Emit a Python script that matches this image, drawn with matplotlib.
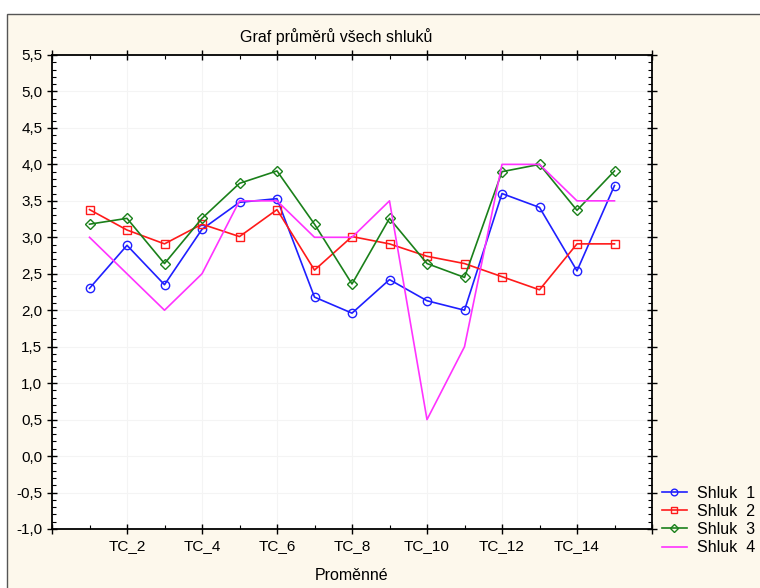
import matplotlib
matplotlib.use("Agg")
import matplotlib.pyplot as plt
from matplotlib.patches import Rectangle
from matplotlib.ticker import MultipleLocator, FuncFormatter

plt.rcParams['font.family'] = ['Liberation Sans', 'DejaVu Sans']

#--- Data (cluster means per variable)
variables = ["TC_%d" % i for i in range(1, 16)]
shluk_1 = [2.30, 2.89, 2.35, 3.11, 3.48, 3.53, 2.18, 1.96, 2.42, 2.13, 2.00, 3.60, 3.41, 2.54, 3.71]
shluk_2 = [3.38, 3.10, 2.91, 3.18, 3.01, 3.38, 2.55, 3.01, 2.91, 2.74, 2.64, 2.46, 2.28, 2.91, 2.91]
shluk_3 = [3.18, 3.26, 2.64, 3.26, 3.74, 3.91, 3.18, 2.36, 3.26, 2.64, 2.45, 3.90, 4.00, 3.37, 3.91]
shluk_4 = [3.00, 2.50, 2.00, 2.50, 3.50, 3.50, 3.00, 3.00, 3.50, 0.50, 1.50, 4.00, 4.00, 3.50, 3.50]
series_labels = ["Shluk  1", "Shluk  2", "Shluk  3", "Shluk  4"]

x = list(range(1, len(variables) + 1))

fig = plt.figure(figsize=(7.6, 5.88), dpi=100, facecolor="white")
# cream panel with thin frame
fig.patches.append(Rectangle((7 / 760, -0.1), 1.0, (588 - 14) / 588 + 0.1,
                             transform=fig.transFigure, facecolor="#fdf8ec",
                             edgecolor="#555555", linewidth=1.0, zorder=-10))

ax = fig.add_axes([52 / 760, 1 - 529 / 588, 600 / 760, 474 / 588])
ax.set_facecolor("white")

l1, = ax.plot(x, shluk_1, color="#1f1fff", lw=1.2, marker="o", ms=6, mfc="none", mew=1.0)
l2, = ax.plot(x, shluk_2, color="#ff1a1a", lw=1.2, marker="s", ms=6, mfc="none", mew=1.0)
l3, = ax.plot(x, shluk_3, color="#1a801a", lw=1.2, marker="D", ms=5, mfc="none", mew=1.0)
l4, = ax.plot(x, shluk_4, color="#ff33ff", lw=1.2)

ax.set_xlim(0, 16)
ax.set_ylim(-1.0, 5.5)
ax.xaxis.set_major_locator(MultipleLocator(2))
ax.xaxis.set_minor_locator(MultipleLocator(1))
ax.yaxis.set_major_locator(MultipleLocator(0.5))
ax.yaxis.set_minor_locator(MultipleLocator(0.1))

def xfmt(v, pos):
    i = int(round(v))
    if 1 <= i <= len(variables):
        return variables[i - 1]
    return ""

ax.xaxis.set_major_formatter(FuncFormatter(xfmt))
ax.yaxis.set_major_formatter(FuncFormatter(lambda v, p: ("%.1f" % v).replace(".", ",")))

ax.tick_params(which="major", direction="inout", length=7, width=1.0,
               top=True, right=True, labelsize=11, colors="black")
ax.tick_params(which="minor", direction="in", length=3, width=0.8, top=True, right=True)
for s in ax.spines.values():
    s.set_linewidth(1.3)

ax.grid(True, which="major", color="#f4f4f4", linewidth=0.8)
ax.set_axisbelow(True)

fig.text(336 / 760, 1 - 37 / 588, "Graf průměrů všech shluků", ha="center", va="center", fontsize=11.5)
fig.text(352 / 760, 1 - 576 / 588, "Proměnné", ha="center", va="center", fontsize=11.5)

leg = fig.legend([l1, l2, l3, l4], series_labels, loc="upper left",
                 bbox_to_anchor=(652 / 760, 1 - 476 / 588), frameon=False, fontsize=11.5,
                 handlelength=1.6, handletextpad=0.6, labelspacing=0.2, borderpad=0.1,
                 markerscale=0.8)

fig.savefig("out.png", dpi=100, facecolor=fig.get_facecolor())
